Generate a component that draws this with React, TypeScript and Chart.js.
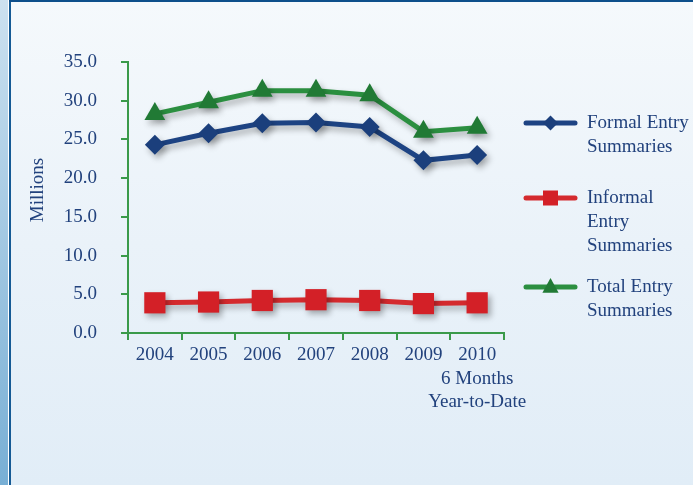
import React, { useEffect, useRef } from 'react';
import { Chart, registerables } from 'chart.js';

Chart.register(...registerables);

const categories: (string | string[])[] = ['2004', '2005', '2006', '2007', '2008', '2009', ['2010', '6 Months', 'Year-to-Date']];
const formalEntry = [24.3, 25.8, 27.1, 27.2, 26.6, 22.3, 23.0];
const informalEntry = [3.9, 4.0, 4.2, 4.3, 4.2, 3.8, 3.9];
const totalEntry = [28.3, 29.8, 31.3, 31.3, 30.7, 26.0, 26.5];
const seriesNames = [
  ['Formal Entry', 'Summaries'],
  ['Informal', 'Entry', 'Summaries'],
  ['Total Entry', 'Summaries'],
];
const yTitle = 'Millions';

const FONT = "'Liberation Serif', 'DejaVu Serif', serif";
const TEXT = '#22427d';
const AXIS = '#3a9a4a';

function drawMarker(ctx: CanvasRenderingContext2D, style: string, x: number, y: number, r: number) {
  ctx.beginPath();
  if (style === 'rectRot') {
    ctx.moveTo(x - r, y);
    ctx.lineTo(x, y - r);
    ctx.lineTo(x + r, y);
    ctx.lineTo(x, y + r);
  } else if (style === 'rect') {
    ctx.rect(x - r, y - r, 2 * r, 2 * r);
  } else {
    ctx.moveTo(x, y - r);
    ctx.lineTo(x + r * 0.9, y + r * 0.65);
    ctx.lineTo(x - r * 0.9, y + r * 0.65);
  }
  ctx.closePath();
  ctx.fill();
}

const shadowPlugin = {
  id: 'shadowPlugin',
  beforeDatasetsDraw(chart: any) {
    const c = chart.ctx;
    c.save();
    c.shadowColor = 'rgba(0,0,0,0.3)';
    c.shadowBlur = 6;
    c.shadowOffsetX = 3;
    c.shadowOffsetY = 4;
  },
  afterDatasetsDraw(chart: any) {
    chart.ctx.restore();
  },
};

const legendPlugin = {
  id: 'customLegend',
  afterDraw(chart: any) {
    const ctx: CanvasRenderingContext2D = chart.ctx;
    const area = chart.chartArea;
    const lineX0 = area.right + 22;
    const lineX1 = lineX0 + 49;
    const textX = lineX1 + 12;
    const rowY = [123, 198, 287];
    const markerR = [7.5, 7.5, 9];
    ctx.save();
    ctx.save();
    ctx.translate(38, 190);
    ctx.rotate(-Math.PI / 2);
    ctx.font = `19px ${FONT}`;
    ctx.fillStyle = TEXT;
    ctx.textAlign = 'center';
    ctx.textBaseline = 'middle';
    ctx.fillText(yTitle, 0, 0);
    ctx.restore();

    chart.data.datasets.forEach((ds: any, i: number) => {
      const y = rowY[i];
      ctx.strokeStyle = ds.borderColor;
      ctx.lineWidth = 5;
      ctx.lineCap = 'round';
      ctx.beginPath();
      ctx.moveTo(lineX0, y);
      ctx.lineTo(lineX1, y);
      ctx.stroke();
      ctx.fillStyle = ds.pointBackgroundColor;
      drawMarker(ctx, ds.pointStyle, (lineX0 + lineX1) / 2, y, markerR[i]);
      ctx.font = `19px ${FONT}`;
      ctx.fillStyle = TEXT;
      ctx.textAlign = 'left';
      ctx.textBaseline = 'middle';
      seriesNames[i].forEach((t, j) => ctx.fillText(t, textX, y + j * 24));
    });
    ctx.restore();
  },
};

export default function App() {
  const ref = useRef<HTMLCanvasElement>(null);
  useEffect(() => {
    if (!ref.current) return;
    const chart = new Chart(ref.current, {
      type: 'line',
      data: {
        labels: categories,
        datasets: [
          {
            label: seriesNames[0].join(' '),
            data: formalEntry,
            borderColor: '#1d4383',
            backgroundColor: '#1b3f7c',
            pointBackgroundColor: '#1b3f7c',
            pointBorderWidth: 0,
            pointStyle: 'rectRot',
            pointRadius: 10,
            borderWidth: 5,
            tension: 0,
          },
          {
            label: seriesNames[1].join(' '),
            data: informalEntry,
            borderColor: '#d42a2e',
            backgroundColor: '#d32027',
            pointBackgroundColor: '#d32027',
            pointBorderWidth: 0,
            pointStyle: 'rect',
            pointRadius: 15,
            borderWidth: 5,
            tension: 0,
          },
          {
            label: seriesNames[2].join(' '),
            data: totalEntry,
            borderColor: '#2b8f40',
            backgroundColor: '#217a35',
            pointBackgroundColor: '#217a35',
            pointBorderWidth: 0,
            pointStyle: 'triangle',
            pointRadius: 12,
            borderWidth: 5,
            tension: 0,
          },
        ],
      },
      options: {
        responsive: false,
        animation: false,
        devicePixelRatio: 1,
        layout: { padding: { left: 0, right: 189, top: 62, bottom: 0 } },
        plugins: { legend: { display: false }, tooltip: { enabled: false } },
        scales: {
          x: {
            type: 'category',
            offset: true,
            grid: { offset: true, drawOnChartArea: false, drawTicks: true, tickLength: 7, color: AXIS, lineWidth: 2 },
            border: { display: true, color: AXIS, width: 2 },
            ticks: { color: TEXT, font: { family: FONT, size: 19, lineHeight: 1.25 }, padding: 3, maxRotation: 0, autoSkip: false },
            afterFit: (s: any) => { s.height = 152; },
          },
          y: {
            min: 0,
            max: 35,
            grid: { drawOnChartArea: false, drawTicks: true, tickLength: 7, color: AXIS, lineWidth: 2 },
            border: { display: true, color: AXIS, width: 2 },
            ticks: { stepSize: 5, color: TEXT, font: { family: FONT, size: 19 }, padding: 24, callback: (v: any) => Number(v).toFixed(1) },
            afterFit: (s: any) => { s.width = 128; },
          },
        },
      },
      plugins: [shadowPlugin, legendPlugin],
    } as any);
    return () => chart.destroy();
  }, []);

  return (
    <div style={{ position: 'fixed', left: 0, top: 0, width: 693, height: 485, overflow: 'hidden', background: 'linear-gradient(to bottom, #f5f9fc 0%, #eaf2f9 50%, #e1edf7 100%)' }}>
      <div style={{ position: 'absolute', left: 0, top: 0, width: 8, height: 485, background: 'linear-gradient(to bottom, #cce1f0, #78afd5)' }} />
      <div style={{ position: 'absolute', left: 8, top: 0, width: 1, height: 485, background: '#ffffff' }} />
      <div style={{ position: 'absolute', left: 9, top: 0, width: 2, height: 485, background: '#155a95' }} />
      <div style={{ position: 'absolute', left: 9, top: 0, width: 684, height: 2, background: '#0d4f8b' }} />
      <canvas ref={ref} width={693} height={485} style={{ position: 'absolute', left: 0, top: 0, width: 693, height: 485 }} />
    </div>
  );
}
